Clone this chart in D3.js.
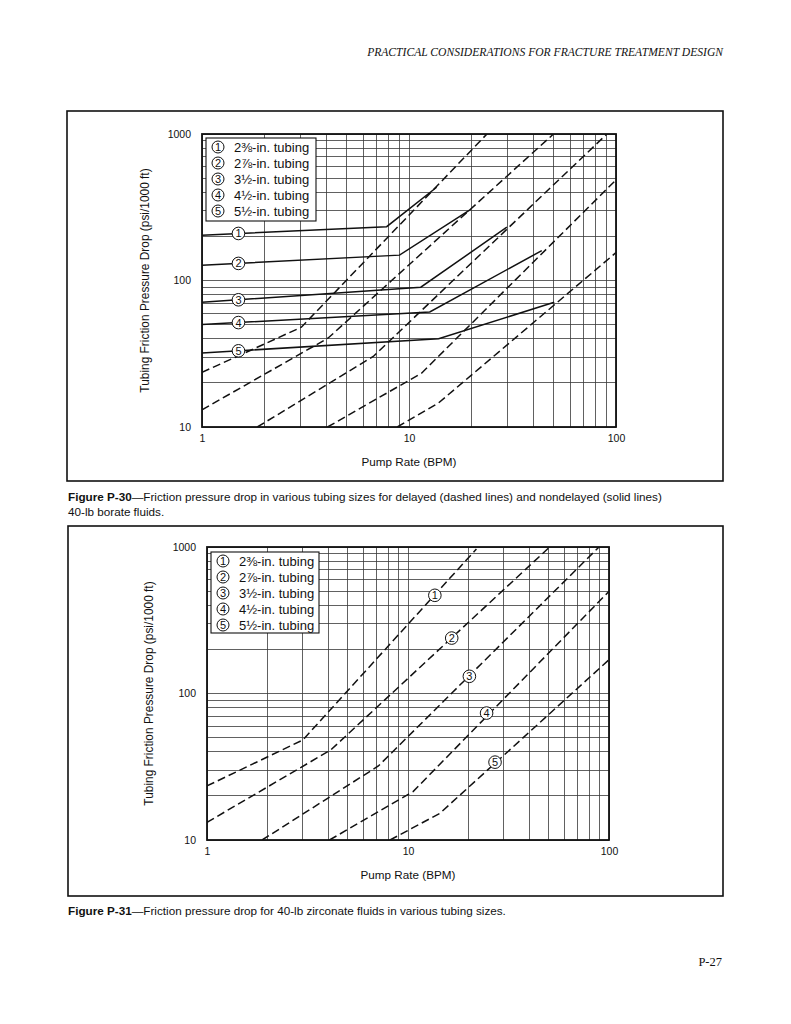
<!DOCTYPE html>
<html>
<head>
<meta charset="utf-8">
<script src="https://cdn.jsdelivr.net/npm/d3@7"></script>
<style>
  html, body { margin: 0; padding: 0; background: #fff; }
  svg { display: block; }
  text { font-family: "Liberation Sans", Arial, sans-serif; fill: #111; }
</style>
</head>
<body>
<svg id="page" width="791" height="1024"></svg>
<script>
// ---------------- DATA ----------------
const xTickValues = [1, 10, 100];
const yTickValues = [10, 100, 1000];
const tubingNames = ["2\u215C-in. tubing", "2\u215E-in. tubing", "3\u00BD-in. tubing", "4\u00BD-in. tubing", "5\u00BD-in. tubing"];
const tubingNumbers = ["1", "2", "3", "4", "5"];

// Figure P-30: borate, nondelayed (solid) [pump rate BPM, psi/1000 ft]
const borateNondelayed = [
  [[1, 204], [7.8, 233], [13.6, 433]],
  [[1, 127], [9.0, 149], [19.7, 303]],
  [[1, 71], [11.4, 90], [29.7, 231]],
  [[1, 50], [12.6, 61], [43.8, 160]],
  [[1, 32], [13.9, 40], [50.3, 71]]
];
// Figure P-30: borate, delayed (dashed)
const borateDelayed = [
  [[1, 23.6], [3.02, 48], [23.8, 1000]],
  [[1, 13.1], [4.07, 40.5], [49.9, 1000]],
  [[1.85, 10], [6.72, 30.3], [90.4, 1000]],
  [[4.04, 10], [11.5, 23.3], [100, 486]],
  [[8.78, 10], [13.9, 14.6], [100, 155]]
];
// Label position (pump rate) for circled numbers on solid lines, Fig P-30
const borateLabelRate = [1.5, 1.5, 1.5, 1.5, 1.5];

// Figure P-31: zirconate (dashed)
const zirconate = [
  [[1, 23.4], [3.0, 48.2], [21.9, 969]],
  [[1, 13.2], [4.13, 41.2], [50.7, 1000]],
  [[1.88, 10], [7.12, 32], [89.2, 1000]],
  [[4.07, 10], [10.6, 21.4], [100, 498]],
  [[8.14, 10], [14.4, 15.2], [100, 170]]
];
const zirconateLabelPos = [[13.6, 468], [16.5, 239], [20.2, 131], [24.6, 73.5], [27.1, 34]];

const headerText = "PRACTICAL CONSIDERATIONS FOR FRACTURE TREATMENT DESIGN";
const pageNumber = "P-27";
const xTitle = "Pump Rate (BPM)";
const yTitle = "Tubing Friction Pressure Drop (psi/1000 ft)";
const caption30 = ["Figure P-30", "\u2014Friction pressure drop in various tubing sizes for delayed (dashed lines) and nondelayed (solid lines)", "40-lb borate fluids."];
const caption31 = ["Figure P-31", "\u2014Friction pressure drop for 40-lb zirconate fluids in various tubing sizes."];

// ---------------- DRAW ----------------
const svg = d3.select("#page");

svg.append("text").attr("x", 723).attr("y", 56).attr("text-anchor", "end")
  .style("font-family", "'Liberation Serif', 'Times New Roman', serif").style("font-style", "italic")
  .style("font-size", "11.6px").text(headerText);
svg.append("text").attr("x", 722).attr("y", 966).attr("text-anchor", "end")
  .style("font-family", "'Liberation Serif', 'Times New Roman', serif")
  .style("font-size", "12.5px").text(pageNumber);

function interpLog(pts, xv) {
  for (let i = 0; i < pts.length - 1; i++) {
    const a = pts[i], b = pts[i + 1];
    if (xv >= a[0] && xv <= b[0]) {
      const t = (Math.log(xv) - Math.log(a[0])) / (Math.log(b[0]) - Math.log(a[0]));
      return Math.exp(Math.log(a[1]) + t * (Math.log(b[1]) - Math.log(a[1])));
    }
  }
  return pts[0][1];
}

function circled(parent, cx, cy, label, r, fs) {
  parent.append("circle").attr("cx", cx).attr("cy", cy).attr("r", r)
    .attr("fill", "#fff").attr("stroke", "#111").attr("stroke-width", 1);
  parent.append("text").attr("x", cx).attr("y", cy + fs * 0.36).attr("text-anchor", "middle")
    .style("font-size", fs + "px").text(label);
}

function drawChart(cfg) {
  const g = svg.append("g");
  // outer box
  g.append("rect").attr("x", cfg.box[0]).attr("y", cfg.box[1])
    .attr("width", cfg.box[2] - cfg.box[0]).attr("height", cfg.box[3] - cfg.box[1])
    .attr("fill", "none").attr("stroke", "#111").attr("stroke-width", 1.6);

  const x = d3.scaleLog().domain([1, 100]).range([cfg.px0, cfg.px1]);
  const y = d3.scaleLog().domain([10, 1000]).range([cfg.py1, cfg.py0]);

  // grid
  const grid = g.append("g").attr("stroke", "#3a3a3a").attr("stroke-width", 0.8).attr("shape-rendering", "crispEdges");
  grid.selectAll("line.v").data(x.ticks()).join("line")
    .attr("x1", d => x(d)).attr("x2", d => x(d)).attr("y1", cfg.py0).attr("y2", cfg.py1);
  grid.selectAll("line.h").data(y.ticks()).join("line")
    .attr("y1", d => y(d)).attr("y2", d => y(d)).attr("x1", cfg.px0).attr("x2", cfg.px1);

  // legend box
  const lg = g.append("g");
  lg.append("rect").attr("x", cfg.legend[0]).attr("y", cfg.legend[1])
    .attr("width", cfg.legend[2]).attr("height", cfg.legend[3])
    .attr("fill", "#fff").attr("stroke", "#111").attr("stroke-width", 1.1);
  tubingNames.forEach((name, i) => {
    const cy = cfg.legend[1] + 9 + i * 16;
    circled(lg, cfg.legend[0] + 12, cy, tubingNumbers[i], 6, 11);
    lg.append("text").attr("x", cfg.legend[0] + 28).attr("y", cy + 4.5)
      .style("font-size", "13px").text(name);
  });

  const line = d3.line().x(d => x(d[0])).y(d => y(d[1]));

  const clipId = "clip" + cfg.id;
  svg.append("clipPath").attr("id", clipId).append("rect")
    .attr("x", cfg.px0).attr("y", cfg.py0).attr("width", cfg.px1 - cfg.px0).attr("height", cfg.py1 - cfg.py0);
  const data = g.append("g").attr("clip-path", `url(#${clipId})`);

  data.selectAll("path.dash").data(cfg.dashed).join("path")
    .attr("d", line).attr("fill", "none").attr("stroke", "#111")
    .attr("stroke-width", 1.5).attr("stroke-dasharray", "8,4");
  if (cfg.solid) {
    data.selectAll("path.solid").data(cfg.solid).join("path")
      .attr("d", line).attr("fill", "none").attr("stroke", "#111").attr("stroke-width", 1.5);
  }

  // circled labels
  const labels = g.append("g");
  cfg.labelPos.forEach((p, i) => circled(labels, x(p[0]), y(p[1]), tubingNumbers[i], 6.3, 11));

  // plot frame
  g.append("rect").attr("x", cfg.px0).attr("y", cfg.py0)
    .attr("width", cfg.px1 - cfg.px0).attr("height", cfg.py1 - cfg.py0)
    .attr("fill", "none").attr("stroke", "#111").attr("stroke-width", 1.8);

  // axes
  const xa = g.append("g").attr("transform", `translate(0,${cfg.py1 + 5})`)
    .call(d3.axisBottom(x).tickValues(xTickValues).tickFormat(d3.format("d")).tickSize(0));
  xa.select(".domain").remove();
  xa.selectAll("text").style("font-size", "10.5px").style("font-family", "'Liberation Sans', Arial, sans-serif").attr("fill", "#111");
  const ya = g.append("g").attr("transform", `translate(${cfg.px0 - 8},0)`)
    .call(d3.axisLeft(y).tickValues(yTickValues).tickFormat(d3.format("d")).tickSize(0));
  ya.select(".domain").remove();
  ya.selectAll("text").style("font-size", "10.5px").style("font-family", "'Liberation Sans', Arial, sans-serif").attr("fill", "#111");

  g.append("text").attr("x", (cfg.px0 + cfg.px1) / 2).attr("y", cfg.py1 + 39)
    .attr("text-anchor", "middle").style("font-size", "11.7px").text(xTitle);
  g.append("text").attr("transform", `translate(${cfg.yTitleX},${(cfg.py0 + cfg.py1) / 2}) rotate(-90)`)
    .attr("text-anchor", "middle").style("font-size", "11.9px").text(yTitle);
}

drawChart({
  id: 1, box: [67, 111, 723, 481], px0: 202, px1: 616, py0: 134, py1: 427,
  legend: [206, 138, 110, 83], yTitleX: 149,
  solid: borateNondelayed, dashed: borateDelayed,
  labelPos: borateNondelayed.map((pts, i) => [borateLabelRate[i], interpLog(pts, borateLabelRate[i])])
});
drawChart({
  id: 2, box: [68, 526, 723, 896], px0: 207, px1: 609, py0: 547, py1: 840,
  legend: [211, 552, 108, 81], yTitleX: 153,
  solid: null, dashed: zirconate, labelPos: zirconateLabelPos
});

function caption(parts, yy) {
  const t = svg.append("text").attr("x", 68).attr("y", yy).style("font-size", "11.7px");
  t.append("tspan").style("font-weight", "bold").text(parts[0]);
  t.append("tspan").text(parts[1]);
  if (parts[2]) svg.append("text").attr("x", 68).attr("y", yy + 15).style("font-size", "11.7px").text(parts[2]);
}
caption(caption30, 501);
caption(caption31, 915);
</script>
</body>
</html>
